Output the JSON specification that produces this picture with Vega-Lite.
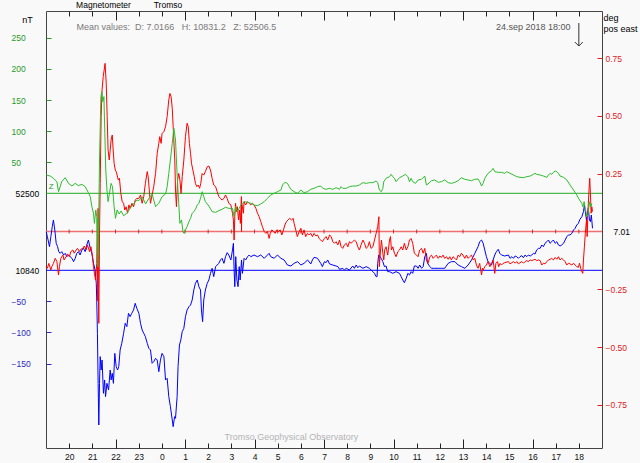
{
"$schema": "https://vega.github.io/schema/vega-lite/v6.json",
"width": 556,
"height": 437,
"autosize": {"type": "none"},
"padding": {"left": 46, "top": 11, "right": 38, "bottom": 15},
"background": "#f9f9f9",
"config": {
  "view": {"stroke": "#444444", "strokeWidth": 1},
  "font": "Liberation Sans",
  "axis": {"grid": false, "domain": false, "labelFont": "Liberation Sans", "labelFontSize": 8.5, "titleFont": "Liberation Sans", "titleFontSize": 9, "titleFontWeight": "normal", "labelFlush": false, "labelOverlap": false}
},
"datasets": {
"hours": [{"t":20},{"t":21},{"t":22},{"t":23},{"t":24},{"t":25},{"t":26},{"t":27},{"t":28},{"t":29},{"t":30},{"t":31},{"t":32},{"t":33},{"t":34},{"t":35},{"t":36},{"t":37},{"t":38},{"t":39},{"t":40},{"t":41},{"t":42}],
"Z": [{"t":19.01,"v":29.4},{"t":19.18,"v":27.8},{"t":19.32,"v":24.1},{"t":19.47,"v":18.7},{"t":19.54,"v":2.6},{"t":19.68,"v":18.7},{"t":19.83,"v":25.2},{"t":19.97,"v":16.0},{"t":20.12,"v":11.8},{"t":20.26,"v":16.0},{"t":20.40,"v":12.3},{"t":20.55,"v":14.4},{"t":20.69,"v":10.7},{"t":20.83,"v":1.0},{"t":20.91,"v":-5.4},{"t":20.98,"v":-21.5},{"t":21.05,"v":-32.2},{"t":21.09,"v":-48.3},{"t":21.15,"v":-26.8},{"t":21.19,"v":-37.5},{"t":21.22,"v":-90},{"t":21.23,"v":-40},{"t":21.24,"v":-118},{"t":21.25,"v":-50},{"t":21.26,"v":-100},{"t":21.27,"v":-64.4},{"t":21.31,"v":53.6},{"t":21.37,"v":155.4},{"t":21.41,"v":163.4},{"t":21.45,"v":147.3},{"t":21.50,"v":155.4},{"t":21.54,"v":96.4},{"t":21.58,"v":37.5},{"t":21.63,"v":5.3},{"t":21.68,"v":-13.4},{"t":21.74,"v":0},{"t":21.81,"v":16.0},{"t":21.87,"v":10.7},{"t":21.94,"v":-21.5},{"t":22.00,"v":-40.2},{"t":22.07,"v":-26.8},{"t":22.16,"v":-33.3},{"t":22.24,"v":-28.4},{"t":22.35,"v":-36.0},{"t":22.49,"v":-32.2},{"t":22.63,"v":-24.2},{"t":22.78,"v":-17.2},{"t":22.92,"v":-10.8},{"t":23.01,"v":-11.8},{"t":23.15,"v":-5.4},{"t":23.30,"v":-17.2},{"t":23.44,"v":-8.1},{"t":23.58,"v":-1.1},{"t":23.73,"v":-21.5},{"t":23.87,"v":-16.1},{"t":24.01,"v":-5.4},{"t":24.16,"v":-1.1},{"t":24.23,"v":10.7},{"t":24.30,"v":32.1},{"t":24.37,"v":53.6},{"t":24.45,"v":80.3},{"t":24.52,"v":104.5},{"t":24.59,"v":85.7},{"t":24.63,"v":53.6},{"t":24.68,"v":16.0},{"t":24.73,"v":-16.1},{"t":24.78,"v":-48.3},{"t":24.85,"v":-42.9},{"t":24.91,"v":-61.7},{"t":24.96,"v":-64.4},{"t":25.02,"v":-59.0},{"t":25.09,"v":-53.6},{"t":25.17,"v":-45.6},{"t":25.24,"v":-40.2},{"t":25.31,"v":-32.2},{"t":25.38,"v":-29.5},{"t":25.45,"v":-25.8},{"t":25.53,"v":-18.8},{"t":25.60,"v":-16.1},{"t":25.67,"v":-8.1},{"t":25.74,"v":2.6},{"t":25.81,"v":-5.4},{"t":25.88,"v":-13.4},{"t":26.03,"v":-20.4},{"t":26.17,"v":-29.5},{"t":26.32,"v":-30.6},{"t":26.46,"v":-27.9},{"t":26.60,"v":-25.8},{"t":26.75,"v":-22.5},{"t":26.89,"v":-24.2},{"t":27.05,"v":-24.2},{"t":27.12,"v":-37.6},{"t":27.19,"v":-21.5},{"t":27.26,"v":-29.5},{"t":27.34,"v":-24.2},{"t":27.41,"v":-18.8},{"t":27.48,"v":-16.1},{"t":27.55,"v":-13.4},{"t":27.70,"v":-14.5},{"t":27.84,"v":-16.1},{"t":27.98,"v":-18.8},{"t":28.13,"v":-19.9},{"t":28.27,"v":-17.2},{"t":28.42,"v":-13.4},{"t":28.56,"v":-8.1},{"t":28.70,"v":-2.7},{"t":28.85,"v":0},{"t":28.99,"v":2.6},{"t":29.14,"v":5.3},{"t":29.21,"v":13.4},{"t":29.31,"v":17.6},{"t":29.42,"v":16.0},{"t":29.50,"v":10.7},{"t":29.57,"v":6.4},{"t":29.71,"v":2.6},{"t":29.86,"v":0},{"t":30.00,"v":5.3},{"t":30.14,"v":1.0},{"t":30.29,"v":2.6},{"t":30.43,"v":6.4},{"t":30.57,"v":8.0},{"t":30.72,"v":10.7},{"t":30.86,"v":11.7},{"t":30.95,"v":8.0},{"t":31.09,"v":6.4},{"t":31.24,"v":8.0},{"t":31.38,"v":6.4},{"t":31.52,"v":9.1},{"t":31.67,"v":6.4},{"t":31.74,"v":10.7},{"t":31.81,"v":8.0},{"t":31.96,"v":8.0},{"t":32.10,"v":10.7},{"t":32.24,"v":11.7},{"t":32.39,"v":11.7},{"t":32.53,"v":13.4},{"t":32.68,"v":17.1},{"t":32.82,"v":16.0},{"t":32.96,"v":17.1},{"t":33.11,"v":17.1},{"t":33.25,"v":19.8},{"t":33.32,"v":17.1},{"t":33.39,"v":5.3},{"t":33.47,"v":2.6},{"t":33.54,"v":8.0},{"t":33.58,"v":18.7},{"t":33.68,"v":24.1},{"t":33.83,"v":26.7},{"t":33.90,"v":30.5},{"t":33.97,"v":26.7},{"t":34.04,"v":24.1},{"t":34.11,"v":18.7},{"t":34.26,"v":25.1},{"t":34.40,"v":27.8},{"t":34.52,"v":30.5},{"t":34.62,"v":26.7},{"t":34.69,"v":18.7},{"t":34.76,"v":24.1},{"t":34.83,"v":18.7},{"t":34.95,"v":16.0},{"t":35.06,"v":21.4},{"t":35.21,"v":22.5},{"t":35.35,"v":27.8},{"t":35.42,"v":13.4},{"t":35.49,"v":15.0},{"t":35.64,"v":20.3},{"t":35.78,"v":21.4},{"t":35.93,"v":17.6},{"t":36.07,"v":18.7},{"t":36.21,"v":21.4},{"t":36.36,"v":17.1},{"t":36.50,"v":16.0},{"t":36.65,"v":17.6},{"t":36.79,"v":20.3},{"t":36.93,"v":25.1},{"t":37.08,"v":22.5},{"t":37.22,"v":21.4},{"t":37.37,"v":20.3},{"t":37.51,"v":22.5},{"t":37.65,"v":23.0},{"t":37.72,"v":18.7},{"t":37.80,"v":11.7},{"t":37.87,"v":16.0},{"t":37.94,"v":24.1},{"t":38.08,"v":32.1},{"t":38.23,"v":36.4},{"t":38.30,"v":40.1},{"t":38.37,"v":34.8},{"t":38.52,"v":33.7},{"t":38.66,"v":33.7},{"t":38.80,"v":32.1},{"t":38.89,"v":34.8},{"t":39.03,"v":32.1},{"t":39.18,"v":29.4},{"t":39.32,"v":26.7},{"t":39.46,"v":25.7},{"t":39.61,"v":25.1},{"t":39.75,"v":26.7},{"t":39.90,"v":27.8},{"t":40.04,"v":30.5},{"t":40.11,"v":32.1},{"t":40.18,"v":30.5},{"t":40.33,"v":29.4},{"t":40.47,"v":27.8},{"t":40.62,"v":25.7},{"t":40.69,"v":29.4},{"t":40.76,"v":32.1},{"t":40.83,"v":30.5},{"t":40.90,"v":33.7},{"t":40.98,"v":35.9},{"t":41.05,"v":34.8},{"t":41.12,"v":32.1},{"t":41.19,"v":27.8},{"t":41.34,"v":25.7},{"t":41.48,"v":21.4},{"t":41.62,"v":13.4},{"t":41.77,"v":5.3},{"t":41.91,"v":-2.7},{"t":42.03,"v":-10.8},{"t":42.13,"v":-16.1},{"t":42.17,"v":-21.5},{"t":42.23,"v":-13.4},{"t":42.27,"v":-24.2},{"t":42.31,"v":-29.5},{"t":42.34,"v":-37.6},{"t":42.39,"v":-34.9},{"t":42.43,"v":-24.2},{"t":42.47,"v":-13.4},{"t":42.52,"v":-21.5},{"t":42.56,"v":-16.1}],
"H": [{"t":19.01,"v":62.1},{"t":19.06,"v":54.1},{"t":19.15,"v":38.0},{"t":19.21,"v":54.1},{"t":19.27,"v":70.2},{"t":19.32,"v":80.9},{"t":19.38,"v":64.8},{"t":19.44,"v":43.4},{"t":19.50,"v":38.0},{"t":19.55,"v":30.0},{"t":19.61,"v":27.3},{"t":19.68,"v":30.0},{"t":19.76,"v":24.6},{"t":19.83,"v":27.3},{"t":19.90,"v":21.9},{"t":19.97,"v":24.6},{"t":20.04,"v":21.9},{"t":20.12,"v":19.3},{"t":20.19,"v":13.9},{"t":20.26,"v":19.3},{"t":20.33,"v":27.3},{"t":20.40,"v":30.0},{"t":20.47,"v":24.6},{"t":20.55,"v":32.7},{"t":20.62,"v":35.3},{"t":20.69,"v":30.0},{"t":20.76,"v":40.7},{"t":20.83,"v":48.7},{"t":20.91,"v":35.3},{"t":20.98,"v":27.3},{"t":21.05,"v":11.2},{"t":21.12,"v":0.5},{"t":21.17,"v":-20.9},{"t":21.19,"v":-47.7},{"t":21.22,"v":-101.3},{"t":21.25,"v":-181.7},{"t":21.28,"v":-248.7},{"t":21.31,"v":-181.7},{"t":21.34,"v":-138.8},{"t":21.38,"v":-160.3},{"t":21.42,"v":-144.2},{"t":21.48,"v":-197.8},{"t":21.53,"v":-176.3},{"t":21.57,"v":-203.1},{"t":21.63,"v":-181.7},{"t":21.70,"v":-192.4},{"t":21.77,"v":-160.3},{"t":21.81,"v":-176.3},{"t":21.86,"v":-165.6},{"t":21.91,"v":-181.7},{"t":21.97,"v":-133.5},{"t":22.03,"v":-154.9},{"t":22.09,"v":-160.3},{"t":22.14,"v":-154.9},{"t":22.20,"v":-128.1},{"t":22.27,"v":-117.4},{"t":22.35,"v":-101.3},{"t":22.42,"v":-85.2},{"t":22.49,"v":-90.6},{"t":22.56,"v":-69.2},{"t":22.63,"v":-74.5},{"t":22.70,"v":-69.2},{"t":22.78,"v":-63.8},{"t":22.85,"v":-53.1},{"t":22.92,"v":-61.1},{"t":23.01,"v":-69.2},{"t":23.08,"v":-85.2},{"t":23.15,"v":-96.0},{"t":23.22,"v":-101.3},{"t":23.29,"v":-106.7},{"t":23.37,"v":-117.4},{"t":23.44,"v":-125.4},{"t":23.51,"v":-128.1},{"t":23.58,"v":-149.5},{"t":23.65,"v":-146.9},{"t":23.73,"v":-141.5},{"t":23.80,"v":-144.2},{"t":23.87,"v":-163.0},{"t":23.94,"v":-144.2},{"t":24.01,"v":-133.5},{"t":24.09,"v":-138.8},{"t":24.16,"v":-176.3},{"t":24.23,"v":-173.7},{"t":24.30,"v":-203.1},{"t":24.37,"v":-219.2},{"t":24.45,"v":-240.6},{"t":24.49,"v":-251.4},{"t":24.55,"v":-235.3},{"t":24.59,"v":-238.0},{"t":24.66,"v":-203.1},{"t":24.70,"v":-154.9},{"t":24.76,"v":-120.1},{"t":24.82,"v":-112.0},{"t":24.88,"v":-98.6},{"t":24.95,"v":-93.3},{"t":25.02,"v":-74.5},{"t":25.09,"v":-63.8},{"t":25.17,"v":-58.5},{"t":25.24,"v":-55.8},{"t":25.31,"v":-47.7},{"t":25.38,"v":-31.7},{"t":25.45,"v":-20.9},{"t":25.53,"v":-15.6},{"t":25.60,"v":-26.3},{"t":25.67,"v":-31.7},{"t":25.71,"v":-63.8},{"t":25.76,"v":-82.6},{"t":25.81,"v":-47.7},{"t":25.88,"v":-31.7},{"t":25.96,"v":-20.9},{"t":26.03,"v":-15.6},{"t":26.10,"v":-4.9},{"t":26.17,"v":3.2},{"t":26.24,"v":-10.2},{"t":26.32,"v":5.9},{"t":26.39,"v":8.5},{"t":26.46,"v":11.2},{"t":26.53,"v":16.6},{"t":26.60,"v":19.3},{"t":26.68,"v":11.2},{"t":26.75,"v":21.9},{"t":26.82,"v":28.4},{"t":26.89,"v":24.6},{"t":26.98,"v":16.6},{"t":27.05,"v":32.7},{"t":27.09,"v":43.4},{"t":27.12,"v":0.5},{"t":27.15,"v":-26.3},{"t":27.19,"v":21.9},{"t":27.24,"v":-15.6},{"t":27.29,"v":-26.3},{"t":27.34,"v":5.9},{"t":27.38,"v":-15.6},{"t":27.44,"v":16.6},{"t":27.48,"v":-4.9},{"t":27.55,"v":19.3},{"t":27.62,"v":16.6},{"t":27.70,"v":21.9},{"t":27.77,"v":24.6},{"t":27.84,"v":21.9},{"t":27.98,"v":24.6},{"t":28.13,"v":21.9},{"t":28.27,"v":24.6},{"t":28.42,"v":19.3},{"t":28.56,"v":24.6},{"t":28.63,"v":27.3},{"t":28.70,"v":21.9},{"t":28.85,"v":19.3},{"t":28.99,"v":24.6},{"t":29.14,"v":19.3},{"t":29.28,"v":16.6},{"t":29.42,"v":8.5},{"t":29.57,"v":6.9},{"t":29.71,"v":11.2},{"t":29.86,"v":13.9},{"t":30.00,"v":8.5},{"t":30.14,"v":11.2},{"t":30.29,"v":16.6},{"t":30.43,"v":10.2},{"t":30.50,"v":16.6},{"t":30.57,"v":20.9},{"t":30.72,"v":19.3},{"t":30.86,"v":11.2},{"t":30.93,"v":5.9},{"t":31.02,"v":13.9},{"t":31.09,"v":12.3},{"t":31.16,"v":16.6},{"t":31.24,"v":10.2},{"t":31.38,"v":8.5},{"t":31.52,"v":6.9},{"t":31.60,"v":5.9},{"t":31.67,"v":1.6},{"t":31.81,"v":3.2},{"t":31.88,"v":0.5},{"t":31.96,"v":3.2},{"t":32.10,"v":0.5},{"t":32.24,"v":6.9},{"t":32.31,"v":3.2},{"t":32.39,"v":8.5},{"t":32.46,"v":4.2},{"t":32.53,"v":6.9},{"t":32.68,"v":3.2},{"t":32.82,"v":5.9},{"t":32.96,"v":3.2},{"t":33.11,"v":-2.2},{"t":33.18,"v":-4.9},{"t":33.25,"v":-10.2},{"t":33.29,"v":-10.2},{"t":33.32,"v":11.2},{"t":33.36,"v":24.6},{"t":33.42,"v":21.9},{"t":33.47,"v":19.3},{"t":33.54,"v":13.9},{"t":33.61,"v":5.9},{"t":33.68,"v":6.9},{"t":33.75,"v":-2.2},{"t":33.83,"v":-2.2},{"t":33.97,"v":-4.9},{"t":34.11,"v":-2.2},{"t":34.26,"v":-4.9},{"t":34.33,"v":-10.2},{"t":34.40,"v":-15.6},{"t":34.47,"v":-19.9},{"t":34.55,"v":-12.9},{"t":34.62,"v":-4.9},{"t":34.69,"v":-7.5},{"t":34.76,"v":-2.2},{"t":34.83,"v":-4.9},{"t":34.90,"v":6.9},{"t":34.99,"v":6.9},{"t":35.06,"v":3.2},{"t":35.13,"v":8.5},{"t":35.21,"v":3.2},{"t":35.28,"v":5.9},{"t":35.35,"v":21.9},{"t":35.42,"v":27.3},{"t":35.47,"v":11.2},{"t":35.57,"v":5.9},{"t":35.64,"v":3.2},{"t":35.78,"v":3.2},{"t":35.93,"v":3.2},{"t":36.07,"v":3.2},{"t":36.21,"v":3.2},{"t":36.36,"v":11.2},{"t":36.50,"v":13.9},{"t":36.65,"v":13.9},{"t":36.79,"v":8.5},{"t":36.93,"v":5.9},{"t":37.08,"v":3.2},{"t":37.22,"v":8.5},{"t":37.37,"v":16.6},{"t":37.51,"v":27.3},{"t":37.65,"v":38.0},{"t":37.72,"v":46.0},{"t":37.80,"v":48.7},{"t":37.87,"v":43.4},{"t":37.94,"v":32.7},{"t":38.01,"v":21.9},{"t":38.08,"v":13.9},{"t":38.23,"v":8.5},{"t":38.30,"v":16.6},{"t":38.37,"v":24.6},{"t":38.44,"v":30.0},{"t":38.52,"v":33.7},{"t":38.59,"v":27.3},{"t":38.66,"v":24.6},{"t":38.80,"v":23.0},{"t":38.96,"v":24.6},{"t":39.03,"v":19.3},{"t":39.11,"v":21.9},{"t":39.18,"v":19.3},{"t":39.25,"v":23.0},{"t":39.32,"v":21.9},{"t":39.39,"v":19.3},{"t":39.46,"v":21.9},{"t":39.54,"v":23.5},{"t":39.61,"v":20.3},{"t":39.68,"v":24.6},{"t":39.75,"v":21.9},{"t":39.82,"v":24.6},{"t":39.90,"v":23.0},{"t":39.97,"v":24.6},{"t":40.04,"v":27.3},{"t":40.11,"v":26.2},{"t":40.18,"v":32.7},{"t":40.26,"v":35.3},{"t":40.33,"v":35.3},{"t":40.40,"v":40.7},{"t":40.47,"v":38.0},{"t":40.54,"v":43.4},{"t":40.62,"v":46.0},{"t":40.69,"v":48.7},{"t":40.76,"v":43.4},{"t":40.83,"v":46.0},{"t":40.90,"v":48.7},{"t":40.98,"v":43.4},{"t":41.05,"v":46.0},{"t":41.12,"v":40.7},{"t":41.19,"v":39.1},{"t":41.26,"v":40.7},{"t":41.34,"v":43.4},{"t":41.41,"v":48.7},{"t":41.48,"v":54.1},{"t":41.55,"v":56.8},{"t":41.62,"v":56.8},{"t":41.70,"v":59.4},{"t":41.77,"v":64.8},{"t":41.84,"v":67.5},{"t":41.91,"v":72.8},{"t":41.98,"v":75.5},{"t":42.05,"v":82.0},{"t":42.13,"v":86.2},{"t":42.20,"v":94.3},{"t":42.24,"v":105.0},{"t":42.28,"v":94.3},{"t":42.33,"v":80.9},{"t":42.37,"v":88.9},{"t":42.41,"v":99.6},{"t":42.46,"v":80.9},{"t":42.50,"v":78.2},{"t":42.54,"v":88.9},{"t":42.59,"v":67.5}],
"D": [{"t":19.01,"v":-0.152},{"t":19.06,"v":-0.159},{"t":19.12,"v":-0.138},{"t":19.21,"v":-0.166},{"t":19.25,"v":-0.152},{"t":19.32,"v":-0.138},{"t":19.40,"v":-0.116},{"t":19.47,"v":-0.130},{"t":19.54,"v":-0.188},{"t":19.58,"v":-0.152},{"t":19.64,"v":-0.116},{"t":19.73,"v":-0.102},{"t":19.78,"v":-0.123},{"t":19.87,"v":-0.109},{"t":19.93,"v":-0.097},{"t":20.01,"v":-0.109},{"t":20.07,"v":-0.087},{"t":20.16,"v":-0.080},{"t":20.22,"v":-0.094},{"t":20.30,"v":-0.080},{"t":20.36,"v":-0.073},{"t":20.45,"v":-0.087},{"t":20.50,"v":-0.077},{"t":20.59,"v":-0.073},{"t":20.65,"v":-0.063},{"t":20.73,"v":-0.080},{"t":20.79,"v":-0.058},{"t":20.88,"v":-0.087},{"t":20.94,"v":-0.066},{"t":21.01,"v":-0.109},{"t":21.05,"v":-0.152},{"t":21.09,"v":-0.181},{"t":21.14,"v":-0.210},{"t":21.19,"v":-0.138},{"t":21.22,"v":0.05},{"t":21.23,"v":-0.3},{"t":21.24,"v":-0.080},{"t":21.25,"v":0.1},{"t":21.26,"v":-0.25},{"t":21.28,"v":-0.397},{"t":21.31,"v":-0.008},{"t":21.34,"v":0.208},{"t":21.38,"v":0.497},{"t":21.42,"v":0.612},{"t":21.47,"v":0.670},{"t":21.51,"v":0.698},{"t":21.55,"v":0.727},{"t":21.60,"v":0.641},{"t":21.64,"v":0.497},{"t":21.68,"v":0.352},{"t":21.73,"v":0.309},{"t":21.77,"v":0.352},{"t":21.81,"v":0.396},{"t":21.86,"v":0.417},{"t":21.90,"v":0.352},{"t":21.94,"v":0.295},{"t":21.99,"v":0.266},{"t":22.03,"v":0.259},{"t":22.07,"v":0.244},{"t":22.12,"v":0.223},{"t":22.17,"v":0.230},{"t":22.23,"v":0.165},{"t":22.29,"v":0.129},{"t":22.35,"v":0.122},{"t":22.40,"v":0.093},{"t":22.46,"v":0.107},{"t":22.52,"v":0.079},{"t":22.58,"v":0.115},{"t":22.63,"v":0.100},{"t":22.71,"v":0.122},{"t":22.78,"v":0.107},{"t":22.85,"v":0.136},{"t":22.92,"v":0.143},{"t":23.01,"v":0.143},{"t":23.08,"v":0.158},{"t":23.15,"v":0.122},{"t":23.22,"v":0.151},{"t":23.29,"v":0.208},{"t":23.37,"v":0.259},{"t":23.41,"v":0.237},{"t":23.47,"v":0.165},{"t":23.51,"v":0.122},{"t":23.58,"v":0.158},{"t":23.65,"v":0.194},{"t":23.73,"v":0.251},{"t":23.80,"v":0.338},{"t":23.87,"v":0.381},{"t":23.91,"v":0.410},{"t":23.97,"v":0.381},{"t":24.01,"v":0.424},{"t":24.09,"v":0.432},{"t":24.16,"v":0.453},{"t":24.23,"v":0.497},{"t":24.30,"v":0.569},{"t":24.35,"v":0.597},{"t":24.40,"v":0.583},{"t":24.45,"v":0.533},{"t":24.49,"v":0.453},{"t":24.53,"v":0.367},{"t":24.56,"v":0.309},{"t":24.59,"v":0.179},{"t":24.63,"v":0.107},{"t":24.68,"v":0.223},{"t":24.73,"v":0.251},{"t":24.78,"v":0.223},{"t":24.83,"v":0.165},{"t":24.88,"v":0.237},{"t":24.95,"v":0.309},{"t":25.02,"v":0.410},{"t":25.09,"v":0.468},{"t":25.14,"v":0.453},{"t":25.19,"v":0.381},{"t":25.24,"v":0.338},{"t":25.28,"v":0.295},{"t":25.34,"v":0.266},{"t":25.40,"v":0.237},{"t":25.45,"v":0.208},{"t":25.51,"v":0.194},{"t":25.57,"v":0.201},{"t":25.63,"v":0.187},{"t":25.68,"v":0.208},{"t":25.74,"v":0.251},{"t":25.81,"v":0.244},{"t":25.88,"v":0.259},{"t":25.96,"v":0.280},{"t":26.03,"v":0.283},{"t":26.10,"v":0.266},{"t":26.17,"v":0.230},{"t":26.24,"v":0.201},{"t":26.32,"v":0.194},{"t":26.39,"v":0.172},{"t":26.46,"v":0.151},{"t":26.53,"v":0.143},{"t":26.60,"v":0.136},{"t":26.68,"v":0.143},{"t":26.75,"v":0.158},{"t":26.82,"v":0.143},{"t":26.89,"v":0.122},{"t":26.98,"v":0.115},{"t":27.05,"v":0.079},{"t":27.09,"v":0.050},{"t":27.12,"v":-0.037},{"t":27.15,"v":0.064},{"t":27.18,"v":0.122},{"t":27.22,"v":0.086},{"t":27.26,"v":0.107},{"t":27.31,"v":0.050},{"t":27.35,"v":0.093},{"t":27.39,"v":0.035},{"t":27.435,"v":0.151},{"t":27.44,"v":0.0},{"t":27.45,"v":0.12},{"t":27.48,"v":0.107},{"t":27.52,"v":0.079},{"t":27.55,"v":0.129},{"t":27.62,"v":0.115},{"t":27.70,"v":0.129},{"t":27.77,"v":0.122},{"t":27.84,"v":0.115},{"t":27.91,"v":0.122},{"t":27.98,"v":0.115},{"t":28.06,"v":0.100},{"t":28.13,"v":0.079},{"t":28.20,"v":0.064},{"t":28.27,"v":0.043},{"t":28.34,"v":0.021},{"t":28.42,"v":0.000},{"t":28.49,"v":-0.008},{"t":28.56,"v":0.000},{"t":28.63,"v":-0.030},{"t":28.68,"v":-0.008},{"t":28.75,"v":0.007},{"t":28.82,"v":0.000},{"t":28.89,"v":-0.008},{"t":28.96,"v":0.007},{"t":29.03,"v":0.000},{"t":29.11,"v":0.007},{"t":29.18,"v":-0.015},{"t":29.25,"v":0.007},{"t":29.31,"v":0.028},{"t":29.38,"v":0.043},{"t":29.45,"v":0.050},{"t":29.52,"v":0.057},{"t":29.60,"v":0.050},{"t":29.67,"v":0.057},{"t":29.71,"v":0.035},{"t":29.78,"v":0.007},{"t":29.85,"v":-0.022},{"t":29.93,"v":0.000},{"t":30.00,"v":0.014},{"t":30.07,"v":-0.015},{"t":30.14,"v":0.007},{"t":30.21,"v":-0.022},{"t":30.29,"v":-0.008},{"t":30.36,"v":-0.015},{"t":30.43,"v":-0.008},{"t":30.50,"v":-0.022},{"t":30.57,"v":-0.008},{"t":30.65,"v":-0.019},{"t":30.72,"v":-0.015},{"t":30.79,"v":-0.030},{"t":30.86,"v":-0.037},{"t":30.93,"v":-0.044},{"t":31.02,"v":-0.030},{"t":31.09,"v":-0.022},{"t":31.16,"v":-0.037},{"t":31.24,"v":-0.015},{"t":31.31,"v":-0.022},{"t":31.38,"v":-0.044},{"t":31.45,"v":-0.051},{"t":31.52,"v":-0.044},{"t":31.60,"v":-0.058},{"t":31.67,"v":-0.037},{"t":31.74,"v":-0.066},{"t":31.81,"v":-0.073},{"t":31.88,"v":-0.058},{"t":31.96,"v":-0.051},{"t":32.03,"v":-0.066},{"t":32.10,"v":-0.044},{"t":32.17,"v":-0.051},{"t":32.24,"v":-0.044},{"t":32.31,"v":-0.037},{"t":32.39,"v":-0.044},{"t":32.46,"v":-0.066},{"t":32.53,"v":-0.080},{"t":32.60,"v":-0.058},{"t":32.68,"v":-0.037},{"t":32.75,"v":-0.051},{"t":32.82,"v":-0.073},{"t":32.89,"v":-0.066},{"t":32.96,"v":-0.044},{"t":33.03,"v":-0.073},{"t":33.11,"v":-0.066},{"t":33.18,"v":-0.037},{"t":33.25,"v":-0.008},{"t":33.32,"v":0.021},{"t":33.37,"v":0.064},{"t":33.39,"v":-0.152},{"t":33.44,"v":-0.080},{"t":33.48,"v":-0.037},{"t":33.54,"v":-0.094},{"t":33.58,"v":-0.123},{"t":33.62,"v":-0.080},{"t":33.68,"v":-0.066},{"t":33.75,"v":-0.102},{"t":33.83,"v":-0.037},{"t":33.87,"v":-0.022},{"t":33.91,"v":-0.080},{"t":33.97,"v":-0.066},{"t":34.04,"v":-0.094},{"t":34.11,"v":-0.109},{"t":34.19,"v":-0.087},{"t":34.26,"v":-0.080},{"t":34.33,"v":-0.066},{"t":34.40,"v":-0.080},{"t":34.47,"v":-0.051},{"t":34.55,"v":-0.080},{"t":34.62,"v":-0.066},{"t":34.69,"v":-0.037},{"t":34.76,"v":-0.030},{"t":34.83,"v":-0.051},{"t":34.90,"v":-0.094},{"t":35.00,"v":-0.102},{"t":35.06,"v":-0.109},{"t":35.13,"v":-0.080},{"t":35.21,"v":-0.073},{"t":35.28,"v":-0.094},{"t":35.35,"v":-0.073},{"t":35.42,"v":-0.123},{"t":35.49,"v":-0.138},{"t":35.57,"v":-0.109},{"t":35.64,"v":-0.102},{"t":35.71,"v":-0.116},{"t":35.78,"v":-0.109},{"t":35.85,"v":-0.102},{"t":35.93,"v":-0.116},{"t":36.00,"v":-0.106},{"t":36.07,"v":-0.112},{"t":36.14,"v":-0.102},{"t":36.21,"v":-0.116},{"t":36.29,"v":-0.109},{"t":36.36,"v":-0.120},{"t":36.43,"v":-0.109},{"t":36.50,"v":-0.123},{"t":36.57,"v":-0.109},{"t":36.65,"v":-0.116},{"t":36.72,"v":-0.123},{"t":36.79,"v":-0.102},{"t":36.86,"v":-0.109},{"t":36.93,"v":-0.094},{"t":37.00,"v":-0.102},{"t":37.08,"v":-0.116},{"t":37.15,"v":-0.102},{"t":37.22,"v":-0.116},{"t":37.29,"v":-0.109},{"t":37.37,"v":-0.102},{"t":37.44,"v":-0.123},{"t":37.51,"v":-0.116},{"t":37.58,"v":-0.145},{"t":37.65,"v":-0.159},{"t":37.72,"v":-0.138},{"t":37.80,"v":-0.188},{"t":37.84,"v":-0.159},{"t":37.88,"v":-0.166},{"t":37.94,"v":-0.152},{"t":38.01,"v":-0.145},{"t":38.08,"v":-0.130},{"t":38.16,"v":-0.152},{"t":38.23,"v":-0.138},{"t":38.30,"v":-0.123},{"t":38.37,"v":-0.181},{"t":38.42,"v":-0.138},{"t":38.49,"v":-0.130},{"t":38.54,"v":-0.152},{"t":38.60,"v":-0.138},{"t":38.66,"v":-0.145},{"t":38.73,"v":-0.138},{"t":38.80,"v":-0.135},{"t":38.96,"v":-0.130},{"t":39.03,"v":-0.140},{"t":39.11,"v":-0.135},{"t":39.18,"v":-0.130},{"t":39.25,"v":-0.137},{"t":39.32,"v":-0.130},{"t":39.39,"v":-0.140},{"t":39.46,"v":-0.135},{"t":39.54,"v":-0.130},{"t":39.61,"v":-0.137},{"t":39.68,"v":-0.130},{"t":39.75,"v":-0.126},{"t":39.82,"v":-0.130},{"t":39.90,"v":-0.123},{"t":39.97,"v":-0.126},{"t":40.04,"v":-0.123},{"t":40.11,"v":-0.120},{"t":40.18,"v":-0.126},{"t":40.26,"v":-0.123},{"t":40.33,"v":-0.126},{"t":40.40,"v":-0.145},{"t":40.47,"v":-0.137},{"t":40.54,"v":-0.140},{"t":40.62,"v":-0.130},{"t":40.69,"v":-0.123},{"t":40.76,"v":-0.120},{"t":40.83,"v":-0.116},{"t":40.90,"v":-0.123},{"t":40.98,"v":-0.112},{"t":41.05,"v":-0.120},{"t":41.12,"v":-0.109},{"t":41.19,"v":-0.123},{"t":41.26,"v":-0.116},{"t":41.34,"v":-0.123},{"t":41.41,"v":-0.130},{"t":41.48,"v":-0.145},{"t":41.55,"v":-0.137},{"t":41.62,"v":-0.140},{"t":41.70,"v":-0.145},{"t":41.77,"v":-0.137},{"t":41.84,"v":-0.145},{"t":41.91,"v":-0.152},{"t":41.98,"v":-0.155},{"t":42.03,"v":-0.137},{"t":42.08,"v":-0.159},{"t":42.13,"v":-0.174},{"t":42.17,"v":-0.181},{"t":42.20,"v":-0.123},{"t":42.24,"v":-0.066},{"t":42.28,"v":-0.008},{"t":42.33,"v":0.050},{"t":42.36,"v":-0.022},{"t":42.39,"v":0.079},{"t":42.41,"v":0.122},{"t":42.44,"v":0.180},{"t":42.47,"v":0.230},{"t":42.50,"v":0.165},{"t":42.53,"v":0.079},{"t":42.56,"v":0.107},{"t":42.59,"v":0.086}]
},
"resolve": {"scale": {"y": "independent"}, "axis": {"x": "independent", "y": "independent"}},
"layer": [
 {"data": {"values": [{}]}, "mark": {"type": "rule", "color": "#0000ff", "strokeWidth": 1},
  "encoding": {"y": {"datum": 0, "type": "quantitative", "scale": {"domain": [-285.7, 416.9], "nice": false, "zero": false},
    "axis": {"orient": "left", "values": [0], "labelExpr": "'10840'", "ticks": false, "labelPadding": 31, "labelAlign": "left", "labelBaseline": "middle", "labelColor": "#000000", "domain": false, "title": null}}}},
 {"data": {"values": [{}]}, "mark": {"type": "rule", "color": "#f07070", "strokeWidth": 1.5},
  "encoding": {"y": {"datum": 0, "type": "quantitative", "scale": {"domain": [-0.936, 0.9533], "nice": false, "zero": false},
    "axis": {"orient": "right", "values": [0], "labelExpr": "'7.01'", "ticks": false, "labelPadding": 11, "labelAlign": "left", "labelBaseline": "middle", "labelColor": "#000000", "domain": false,
      "title": "pos east", "titleAngle": 0, "titleAlign": "left", "titleBaseline": "middle", "titleX": 1, "titleY": 17.5, "titleColor": "#000000"}}}},
 {"data": {"values": [{}]}, "mark": {"type": "rule", "color": "#22aa22", "strokeWidth": 1},
  "encoding": {"y": {"datum": 0, "type": "quantitative", "scale": {"domain": [-409.5, 293.1], "nice": false, "zero": false},
    "axis": {"orient": "left", "values": [0], "labelExpr": "'52500'", "ticks": false, "labelPadding": 31, "labelAlign": "left", "labelBaseline": "middle", "labelColor": "#000000", "domain": false, "title": null}}}},
 {"data": {"name": "hours"}, "mark": {"type": "tick", "orient": "vertical", "color": "#b00000", "size": 4, "thickness": 1},
  "encoding": {"x": {"field": "t", "type": "quantitative", "scale": {"domain": [19, 43], "nice": false, "zero": false}, "axis": null},
   "y": {"datum": 0, "type": "quantitative", "scale": {"domain": [-0.936, 0.9533], "nice": false, "zero": false}, "axis": null}}},
 {"data": {"name": "H"}, "mark": {"type": "line", "color": "#0000ff", "strokeWidth": 1},
  "encoding": {
   "x": {"field": "t", "type": "quantitative", "scale": {"domain": [19, 43], "nice": false, "zero": false},
     "axis": {"orient": "top", "values": [20,21,22,23,24,25,26,27,28,29,30,31,32,33,34,35,36,37,38,39,40,41,42], "labels": false, "domain": false, "tickColor": "#222222", "tickSize": -5, "title": null}},
   "y": {"field": "v", "type": "quantitative", "scale": {"domain": [-285.7, 416.9], "nice": false, "zero": false},
     "axis": {"orient": "left", "values": [-150, -100, -50], "labelColor": "#2a2ac8", "tickColor": "#2a2ac8", "tickSize": -5, "labelPadding": 40, "labelAlign": "left", "labelBaseline": "middle", "domain": false, "title": null}}
  }},
 {"data": {"name": "D"}, "mark": {"type": "line", "color": "#ff0000", "strokeWidth": 1},
  "encoding": {
   "x": {"field": "t", "type": "quantitative", "scale": {"domain": [19, 43], "nice": false, "zero": false},
     "axis": {"orient": "bottom", "values": [22, 25, 28, 31, 34, 37, 40], "labels": false, "domain": false, "tickSize": -9, "tickColor": "#222222", "title": null}},
   "y": {"field": "v", "type": "quantitative", "scale": {"domain": [-0.936, 0.9533], "nice": false, "zero": false},
     "axis": {"orient": "right", "values": [-0.75, -0.5, -0.25, 0.25, 0.5, 0.75], "format": ".2f", "labelColor": "#e02020", "tickColor": "#e02020", "tickSize": -5, "labelPadding": 8, "labelAlign": "left", "labelBaseline": "middle", "domain": false, "title": "deg", "titleAngle": 0, "titleAlign": "left", "titleBaseline": "middle", "titleX": 1, "titleY": 6.5, "titleColor": "#000000"}}
  }},
 {"data": {"name": "Z"}, "mark": {"type": "line", "color": "#2ebd2e", "strokeWidth": 1},
  "encoding": {
   "x": {"field": "t", "type": "quantitative", "scale": {"domain": [19, 43], "nice": false, "zero": false},
     "axis": {"orient": "bottom", "values": [20,21,22,23,24,25,26,27,28,29,30,31,32,33,34,35,36,37,38,39,40,41,42], "labelExpr": "datum.value % 24", "tickSize": -5, "labelPadding": 9, "tickColor": "#222222", "labelColor": "#111111", "labelAlign": "center", "labelBaseline": "top", "domain": false, "title": null}},
   "y": {"field": "v", "type": "quantitative", "scale": {"domain": [-409.5, 293.1], "nice": false, "zero": false},
     "axis": {"orient": "left", "values": [50, 100, 150, 200, 250], "labelColor": "#2a9a2a", "tickColor": "#2a9a2a", "tickSize": -5, "labelPadding": 40, "labelAlign": "left", "labelBaseline": "middle", "domain": false,
       "title": "nT", "titleAngle": 0, "titleAlign": "center", "titleBaseline": "middle", "titleX": -19, "titleY": 8, "titleColor": "#000000"}}
  }},
 {"data": {"values": [{}]}, "mark": {"type": "text", "align": "left", "baseline": "alphabetic", "font": "Liberation Sans", "fontSize": 8.5, "color": "#000000"},
  "encoding": {"x": {"datum": 20.3, "type": "quantitative", "axis": null}, "y": {"datum": 298.7, "type": "quantitative", "scale": {"domain": [-409.5, 293.1], "nice": false, "zero": false}, "axis": null}, "text": {"value": "Magnetometer"}}},
 {"data": {"values": [{}]}, "mark": {"type": "text", "align": "left", "baseline": "alphabetic", "font": "Liberation Sans", "fontSize": 8.5, "color": "#000000"},
  "encoding": {"x": {"datum": 23.65, "type": "quantitative", "axis": null}, "y": {"datum": 298.7, "type": "quantitative", "scale": {"domain": [-409.5, 293.1], "nice": false, "zero": false}, "axis": null}, "text": {"value": "Tromso"}}},
 {"data": {"values": [{}]}, "mark": {"type": "text", "align": "left", "baseline": "alphabetic", "font": "Liberation Sans", "fontSize": 9, "color": "#7a7a7a"},
  "encoding": {"x": {"datum": 20.32, "type": "quantitative", "axis": null}, "y": {"datum": 263.3, "type": "quantitative", "scale": {"domain": [-409.5, 293.1], "nice": false, "zero": false}, "axis": null}, "text": {"value": "Mean values:\u00a0\u00a0D:\u00a07.0166\u00a0\u00a0\u00a0H:\u00a010831.2\u00a0\u00a0\u00a0Z:\u00a052506.5"}}},
 {"data": {"values": [{}]}, "mark": {"type": "text", "align": "right", "baseline": "alphabetic", "font": "Liberation Sans", "fontSize": 9, "color": "#555555"},
  "encoding": {"x": {"datum": 41.64, "type": "quantitative", "axis": null}, "y": {"datum": 263.3, "type": "quantitative", "scale": {"domain": [-409.5, 293.1], "nice": false, "zero": false}, "axis": null}, "text": {"value": "24.sep 2018 18:00"}}},
 {"data": {"values": [{}]}, "mark": {"type": "rule", "color": "#333333", "strokeWidth": 1},
  "encoding": {"x": {"datum": 42, "type": "quantitative", "axis": null}, "y": {"datum": 273.8, "type": "quantitative", "scale": {"domain": [-409.5, 293.1], "nice": false, "zero": false}, "axis": null}, "y2": {"datum": 236.8}}},
 {"data": {"values": [{}]}, "mark": {"type": "point", "shape": "M-1,-1L0,0L1,-1", "size": 64, "filled": false, "color": "#333333", "strokeWidth": 1, "opacity": 1},
  "encoding": {"x": {"datum": 42, "type": "quantitative", "axis": null}, "y": {"datum": 236.8, "type": "quantitative", "scale": {"domain": [-409.5, 293.1], "nice": false, "zero": false}, "axis": null}}},
 {"data": {"values": [{}]}, "mark": {"type": "text", "align": "center", "baseline": "middle", "font": "Liberation Sans", "fontSize": 8, "color": "#2a9a2a"},
  "encoding": {"x": {"datum": 19.22, "type": "quantitative", "axis": null}, "y": {"datum": 10.9, "type": "quantitative", "scale": {"domain": [-409.5, 293.1], "nice": false, "zero": false}, "axis": null}, "text": {"value": "Z"}}},
 {"data": {"values": [{}]}, "mark": {"type": "text", "align": "center", "baseline": "alphabetic", "font": "Liberation Sans", "fontSize": 9, "color": "#b4b4b4"},
  "encoding": {
   "x": {"datum": 29.59, "type": "quantitative", "scale": {"domain": [19, 43], "nice": false, "zero": false},
     "axis": {"orient": "top", "values": [22, 25, 28, 31, 34, 37, 40], "labels": false, "domain": false, "tickSize": -9, "tickColor": "#222222", "title": null}},
   "y": {"datum": -397, "type": "quantitative", "scale": {"domain": [-409.5, 293.1], "nice": false, "zero": false}, "axis": null},
   "text": {"value": "Tromso Geophysical Observatory"}}}
]
}
